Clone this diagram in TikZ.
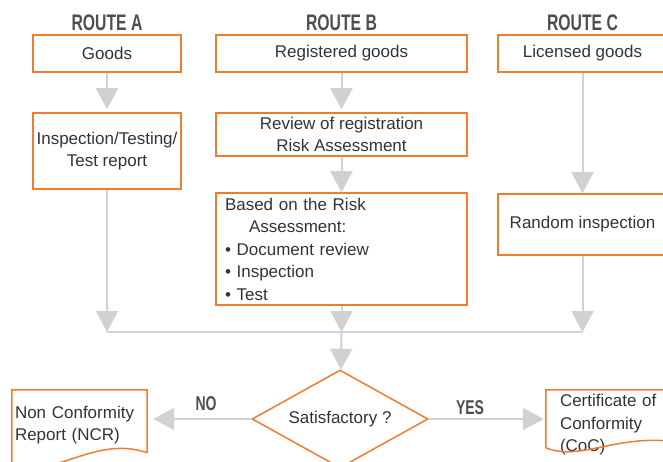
\documentclass[tikz,border=0pt]{standalone}
\usepackage{fontspec}
\setmainfont{Liberation Sans}
\newfontfamily\headfont{Liberation Sans Bold}[FakeStretch=0.7]
\usetikzlibrary{arrows.meta,shapes.geometric,calc}
\definecolor{boxorange}{RGB}{242,124,46}
\definecolor{textgray}{RGB}{51,51,51}
\definecolor{headgray}{RGB}{77,77,77}
\definecolor{arrowgray}{RGB}{208,209,211}

\begin{document}
\begin{tikzpicture}[x=1pt, y=-1pt,
    every node/.style={text=textgray, font=\fontsize{17}{22.5}\selectfont},
    box node/.style={rectangle, draw=boxorange, line width=1.5pt, inner sep=0pt, align=center},
    head node/.style={text=headgray, font=\headfont\fontsize{22.5}{24}\selectfont},
    doc node/.style={rectangle, inner xsep=3pt, inner ysep=0pt, align=left, minimum height=70pt},
    doc line/.style={draw=boxorange, line width=1.5pt},
    flow/.style={color=arrowgray, line width=2pt, -{Triangle[width=22pt,length=21pt]}}]

  \useasboundingbox (0,0) rectangle (663,462);
  \clip (0,0) rectangle (663,462);

  \node[head node] (routeA) at (107,22.5) {ROUTE A};
  \node[head node] (routeB) at (341.5,22.5) {ROUTE B};
  \node[head node] (routeC) at (582.5,22.5) {ROUTE C};

  \node[box node, minimum width=148pt, minimum height=37pt] (goods) at (107,53.5) {Goods};
  \node[box node, minimum width=251pt, minimum height=37pt] (reg) at (341.5,53.5) {Registered goods};
  \node[box node, minimum width=169pt, minimum height=37pt] (lic) at (582.5,53.5) {Licensed goods};

  \node[box node, minimum width=148pt, minimum height=76pt] (insp) at (107,151) {Inspection/Testing/\\Test report};
  \node[box node, minimum width=251pt, minimum height=43pt] (review) at (341.5,134.5) {Review of registration\\Risk Assessment};
  \node[box node, minimum width=251pt, minimum height=112pt, text width=233pt, align=left] (based) at (341.5,249)
    {Based on the Risk\\\hspace*{24pt}Assessment:\\• Document review\\• Inspection\\• Test};
  \node[box node, minimum width=169pt, minimum height=61pt] (random) at (582.5,224.5) {Random inspection};

  \coordinate (jA) at (107,332);
  \coordinate (jB) at (341.5,332);
  \coordinate (jC) at (582.5,332);

  \node[diamond, draw=boxorange, line width=1.5pt, inner sep=0pt, aspect=1.8,
        minimum width=176pt, minimum height=98pt] (sat) at (340,419) {Satisfactory ?};

  \node[doc node, minimum width=135pt, text width=129pt] (ncr) at (79.5,425) {Non Conformity\\Report (NCR)};
  \node[doc node, minimum width=130pt, text width=102pt] (coc) at (611,425) {Certificate of\\Conformity\\(CoC)};

  \node[head node, font=\headfont\fontsize{20}{22}\selectfont] (no) at (206,404) {NO};
  \node[head node, font=\headfont\fontsize{20}{22}\selectfont] (yes) at (470,408) {YES};

  \draw[doc line] ($(ncr.north east)+(0,63)$) -- (ncr.north east) -- (ncr.north west) -- ($(ncr.north west)+(0,76)$)
    .. controls +(43,13) and +(-52,-18) .. ($(ncr.north east)+(0,63)$);
  \draw[doc line] ($(coc.north west)+(0,58)$) -- (coc.north west) -- (coc.north east) -- ($(coc.north east)+(0,52)$)
    .. controls +(-60,-8) and +(34,14) .. ($(coc.north west)+(0,58)$);

\path[flow]
    (goods) edge[shorten >=3pt] (insp)
    (reg) edge[shorten >=3pt] (review)
    (review) edge (based)
    (lic) edge (random)
    (insp) edge (jA)
    (based) edge (jB)
    (random) edge (jC)
    (jA) edge[-] (jC)
    (jB) edge (sat)
    (sat.west) edge[shorten >=6pt] (sat.west -| ncr.east)
    (sat.east) edge[shorten >=2pt] (sat.east -| coc.west)
  ;

\end{tikzpicture}
\end{document}
